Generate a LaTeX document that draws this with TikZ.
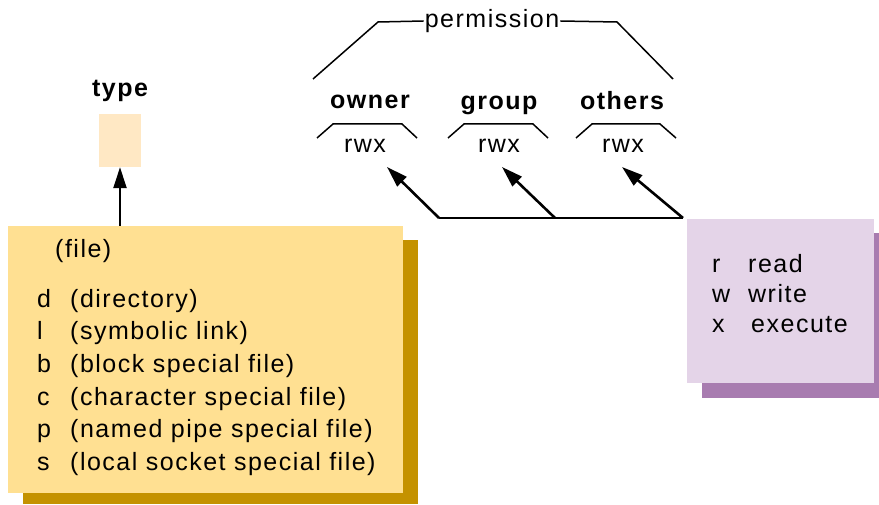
\documentclass[tikz,border=0pt]{standalone}
\usepackage{fontspec}
\setmainfont[LetterSpace=6]{Liberation Sans}
\usetikzlibrary{arrows.meta}

\definecolor{filefill}{HTML}{FFE092}
\definecolor{fileshade}{HTML}{C49200}
\definecolor{typefill}{HTML}{FFE8C4}
\definecolor{permfill}{HTML}{E4D4E8}
\definecolor{permshade}{HTML}{A87CB0}

\newcommand{\entry}[3]{\makebox[#1pt][l]{#2}#3}

\tikzset{
  lbl/.style={anchor=base, inner sep=0pt, font=\fontsize{25}{29}\selectfont},
  hdr/.style={lbl, font=\fontsize{25}{29}\selectfont\bfseries},
  row/.style={anchor=base west, inner sep=0pt, font=\fontsize{25}{29}\selectfont},
  arr/.style={line width=2.6pt, -{Triangle[length=21pt,width=13pt]}},
  brk/.style={line width=1.5pt}
}

\begin{document}
\begin{tikzpicture}[x=1pt,y=-1pt]
\useasboundingbox (0,0) rectangle (879,505);

% file type part
\fill[fileshade] (23,240) rectangle (418,504);
\node[fill=filefill, anchor=north west, inner sep=0pt, minimum width=395pt, minimum height=267pt] (files) at (8,226) {};
\node[fill=typefill, inner sep=0pt, minimum width=42pt, minimum height=53pt] (typebox) at (120,140.5) {};
\node[hdr] (type) at (120,97) {type};
\draw[arr] (files.north -| typebox.south) -- (typebox.south);

\node[row] (ffile) at (55,258) {(file)};
\node[row] (fd) at (37,308) {\entry{33}{d}{(directory)}};
\node[row] (fl) at (37,340) {\entry{33}{l}{(symbolic link)}};
\node[row] (fb) at (37,372) {\entry{33}{b}{(block special file)}};
\node[row] (fc) at (37,405) {\entry{33}{c}{(character special file)}};
\node[row] (fp) at (37,437) {\entry{33}{p}{(named pipe special file)}};
\node[row] (fs) at (37,470) {\entry{33}{s}{(local socket special file)}};

% permission part
\node[lbl, anchor=center, inner sep=1pt] (perm) at (492,21) {permission};
\draw[brk] (313,79) -- (378,22) -- (perm.west);
\draw[brk] (perm.east) -- (617,22) -- (673,79);

\node[hdr] (owner) at (370,109) {owner};
\node[hdr] (group) at (499,110) {group};
\node[hdr] (others) at (622,110) {others};

\draw[brk] (317,138) -- (333,124) -- (402,124) -- (417,138);
\draw[brk] (448,138) -- (464,124) -- (533,124) -- (548,138);
\draw[brk] (576,138) -- (592,124) -- (660,124) -- (676,138);

\node[lbl] (rwxo) at (365,153) {rwx};
\node[lbl] (rwxg) at (499,153) {rwx};
\node[lbl] (rwxt) at (623,153) {rwx};

\fill[permshade] (702,233) rectangle (879,398);
\node[fill=permfill, anchor=north west, inner sep=0pt, minimum width=187pt, minimum height=164pt] (perms) at (687,219) {};

\node[row] (pr) at (712,273) {\entry{36}{r}{read}};
\node[row] (pw) at (712,303) {\entry{36}{w}{write}};
\node[row] (px) at (712,333) {\entry{39}{x}{execute}};

\coordinate (jo) at (439,218);
\coordinate (jg) at (555,218);
\coordinate (jt) at (683,218);
\coordinate (tipo) at (387,167);
\coordinate (tipg) at (502,167);
\coordinate (tipt) at (622,167);
\draw[line width=2.6pt] (jo) -- (jt);
\draw[arr] (jo) -- (tipo);
\draw[arr] (jg) -- (tipg);
\draw[arr] (jt) -- (tipt);

\end{tikzpicture}
\end{document}
